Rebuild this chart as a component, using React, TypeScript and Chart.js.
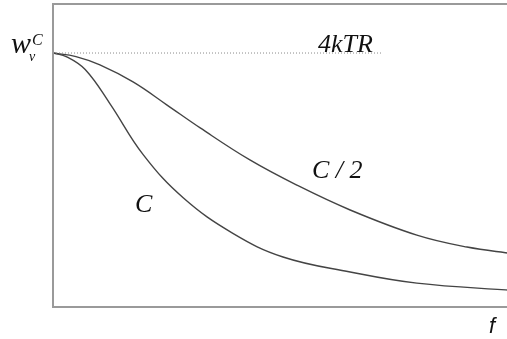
import React, { useEffect, useRef } from "react";
import { Chart, registerables } from "chart.js";

Chart.register(...registerables);

// Normalised frequency (f) and noise spectral density for capacitance C
const fC = [0, 0.3, 0.7, 1.24, 1.96, 2.83, 3.91, 5.0, 6.46, 7.91, 10];
const wC = [1.0, 0.985, 0.935, 0.8, 0.6, 0.43, 0.29, 0.197, 0.138, 0.094, 0.065];

// Same quantity for capacitance C / 2
const fHalf = [0, 0.5, 1.02, 1.74, 2.48, 3.2, 4.28, 5.3, 6.46, 7.91, 9.0, 10];
const wHalf = [1.0, 0.986, 0.953, 0.886, 0.795, 0.705, 0.579, 0.48, 0.382, 0.283, 0.236, 0.21];

// Thermal noise level 4kTR
const fLevel = [0, 7.15];
const wLevel = [1, 1];

const X_MAX = 10;
const Y_MAX = 1.193;

const SERIF = '"Liberation Serif", "Times New Roman", serif';

const toPoints = (xs: number[], ys: number[]) => xs.map((x, i) => ({ x, y: ys[i] }));

// Frame around the plot area plus the italic annotations
const decorations = {
  id: "decorations",
  afterDatasetsDraw(chart: any) {
    const { ctx, chartArea, scales } = chart;
    const { left, right, top, bottom } = chartArea;
    const xs = scales.x;
    const ys = scales.y;
    ctx.save();
    ctx.strokeStyle = "#9a9a9a";
    ctx.lineWidth = 2;
    ctx.strokeRect(left, top, right - left, bottom - top);

    ctx.fillStyle = "#111";
    ctx.textBaseline = "alphabetic";
    ctx.textAlign = "left";

    ctx.font = `italic 26px ${SERIF}`;
    ctx.fillText("4kTR", xs.getPixelForValue(5.76), ys.getPixelForValue(1.004));
    ctx.fillText("C / 2", xs.getPixelForValue(5.63), ys.getPixelForValue(0.508));
    ctx.fillText("C", xs.getPixelForValue(1.78), ys.getPixelForValue(0.374));

    // y label w_v^C beside the 4kTR level
    const yLevel = ys.getPixelForValue(1);
    ctx.font = `italic 30px ${SERIF}`;
    ctx.fillText("w", left - 42, yLevel);
    ctx.font = `italic 16px ${SERIF}`;
    ctx.fillText("C", left - 21, yLevel - 8);
    ctx.font = `italic 14px ${SERIF}`;
    ctx.fillText("v", left - 24, yLevel + 8);

    // x label
    ctx.font = `italic 22px "Liberation Sans", Arial, sans-serif`;
    ctx.fillText("f", xs.getPixelForValue(9.48), bottom + 26);
    ctx.restore();
  },
};

export default function App() {
  const canvasRef = useRef<HTMLCanvasElement | null>(null);

  useEffect(() => {
    const canvas = canvasRef.current;
    if (!canvas) return;
    const chart = new Chart(canvas, {
      type: "line",
      data: {
        datasets: [
          {
            label: "4kTR",
            data: toPoints(fLevel, wLevel),
            borderColor: "#8a8a8a",
            borderWidth: 1,
            borderDash: [1, 2],
            pointRadius: 0,
          },
          {
            label: "C",
            data: toPoints(fC, wC),
            borderColor: "#444",
            borderWidth: 1.4,
            pointRadius: 0,
            tension: 0.4,
          },
          {
            label: "C / 2",
            data: toPoints(fHalf, wHalf),
            borderColor: "#444",
            borderWidth: 1.4,
            pointRadius: 0,
            tension: 0.4,
          },
        ],
      },
      options: {
        responsive: false,
        animation: false,
        devicePixelRatio: 1,
        layout: { padding: { left: 53, top: 4, right: 17, bottom: 32 } },
        plugins: { legend: { display: false }, tooltip: { enabled: false } },
        scales: {
          x: { type: "linear", min: 0, max: X_MAX, display: false },
          y: { type: "linear", min: 0, max: Y_MAX, display: false },
        },
      },
      plugins: [decorations],
    });
    return () => chart.destroy();
  }, []);

  return (
    <div
      style={{
        position: "fixed",
        left: 0,
        top: 0,
        width: 507,
        height: 339,
        overflow: "hidden",
        background: "#fff",
      }}
    >
      <canvas ref={canvasRef} width={530} height={339} style={{ display: "block" }} />
    </div>
  );
}
